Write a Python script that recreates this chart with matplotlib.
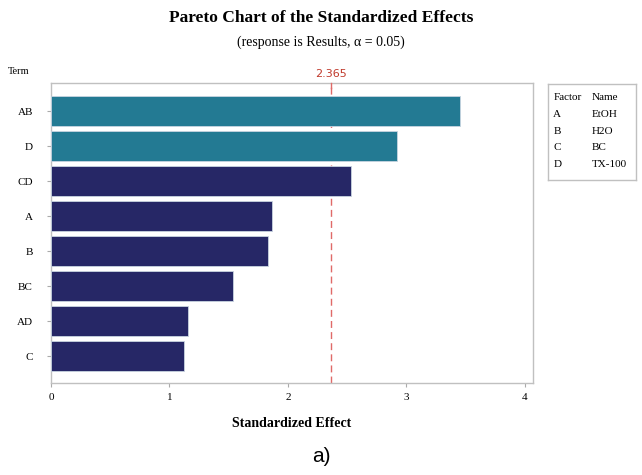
import matplotlib.pyplot as plt

# Standardized effects, largest first
terms = ["AB", "D", "CD", "A", "B", "BC", "AD", "C"]
effects = [3.45, 2.92, 2.53, 1.865, 1.83, 1.54, 1.16, 1.12]
significant = [True, True, False, False, False, False, False, False]
critical = 2.365

factors = ["A", "B", "C", "D"]
names = ["EtOH", "H2O", "BC", "TX-100"]

teal = "#237a93"
navy = "#262766"
colors = [teal if s else navy for s in significant]

serif = "Liberation Serif"

fig = plt.figure(figsize=(6.42, 4.75), dpi=100)
ax = fig.add_axes([51 / 642, 1 - 383 / 475, (533 - 51) / 642, (383 - 83) / 475])

ypos = list(range(len(terms)))
ax.barh(ypos, effects, height=0.86, color=colors, edgecolor="#c8d4e0",
        linewidth=0.6, zorder=3)
ax.set_ylim(len(terms) - 1 + 0.77, -0.8)
ax.set_xlim(0, 4.07)
ax.set_yticks(ypos)
ax.set_yticklabels(terms, fontfamily=serif, fontsize=8)
ax.set_xticks([0, 1, 2, 3, 4])
ax.set_xticklabels(["0", "1", "2", "3", "4"], fontfamily=serif, fontsize=8)
ax.tick_params(axis="y", length=3, color="#aaaaaa", pad=10)
ax.tick_params(axis="x", length=3, color="#aaaaaa", pad=4)
for s in ax.spines.values():
    s.set_color("#c0c0c0")
    s.set_linewidth(1.0)

# critical value reference line, behind the bars
ax.axvline(critical, color="#e06a68", linestyle=(0, (5, 3)), linewidth=1.0, zorder=1)
ax.text(critical, 1.012, "2.365", transform=ax.get_xaxis_transform(),
        ha="center", va="bottom", color="#c0392b", fontsize=8,
        fontfamily="DejaVu Sans")
ax.plot([critical, critical], [1.0, 0.985], transform=ax.get_xaxis_transform(),
        color="#e06a68", linewidth=1.0, clip_on=False, zorder=4)

ax.set_xlabel("Standardized Effect", fontfamily=serif, fontweight="bold",
              fontsize=10, labelpad=11)

fig.text(0.5, 1 - 18 / 475, "Pareto Chart of the Standardized Effects",
         ha="center", va="center", fontfamily=serif, fontweight="bold", fontsize=12.5)
fig.text(0.5, 1 - 42 / 475, "(response is Results, \u03b1 = 0.05)",
         ha="center", va="center", fontfamily=serif, fontsize=10)
fig.text(8 / 642, 1 - 72 / 475, "Term", ha="left", va="center",
         fontfamily=serif, fontsize=7.5)
fig.text(321 / 642, 1 - 456 / 475, "a)", ha="center", va="center",
         fontfamily="Liberation Sans", fontsize=15)

# factor key box
box = fig.add_axes([548 / 642, 1 - 180 / 475, (636 - 548) / 642, (180 - 84) / 475])
box.set_xticks([])
box.set_yticks([])
for s in box.spines.values():
    s.set_color("#c0c0c0")
    s.set_linewidth(1.0)
rows = [("Factor", "Name")] + list(zip(factors, names))
for i, (f, n) in enumerate(rows):
    y = 1 - (14 + i * 16.5) / 96
    box.text(0.06, y, f, ha="left", va="center", fontfamily=serif, fontsize=8)
    box.text(0.50, y, n, ha="left", va="center", fontfamily=serif, fontsize=8)

fig.savefig("out.png", dpi=100)
